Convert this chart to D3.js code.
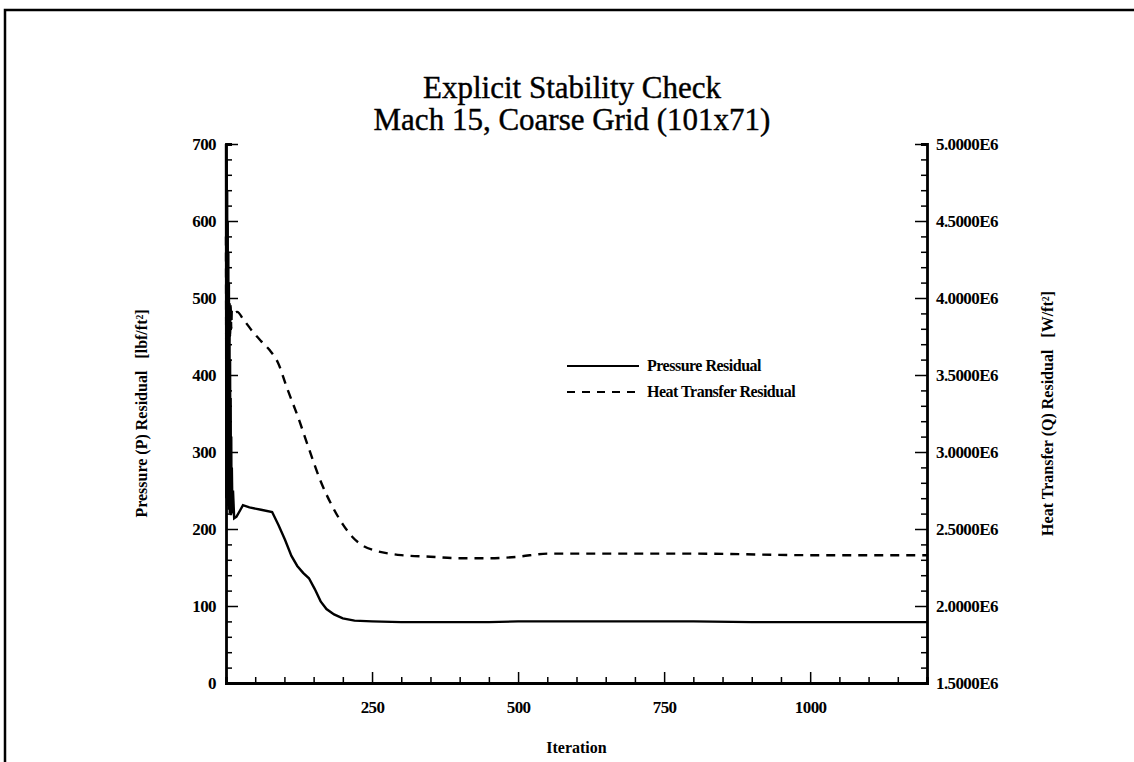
<!DOCTYPE html>
<html><head><meta charset="utf-8">
<script src="https://cdn.jsdelivr.net/npm/d3@7"></script>
<style>body{margin:0;background:#fff;} text{font-family:"Liberation Serif","Times New Roman",serif;fill:#000;}</style>
</head><body><svg id="c" width="1134" height="762"></svg>
<script>
const titleLines = ["Explicit Stability Check", "Mach 15, Coarse Grid (101x71)"];
const xLabel = "Iteration";
const yLeftLabel = "Pressure (P) Residual   [lbf/ft²]";
const yRightLabel = "Heat Transfer (Q) Residual   [W/ft²]";
const seriesNames = ["Pressure Residual", "Heat Transfer Residual"];
const xTicks = [250, 500, 750, 1000];
const yLeftTicks = [0, 100, 200, 300, 400, 500, 600, 700];
const yRightTicks = [1.5e6, 2.0e6, 2.5e6, 3.0e6, 3.5e6, 4.0e6, 4.5e6, 5.0e6];
const pressureIter = [0,0.5,1,1.5,2,2.5,3,3.5,4,4.5,5,5.5,6,6.5,7,7.5,8,8.5,9,9.5,10,11,12,14,18,24,29,40,60,79,90,101,112,122,132,142,152,162,172,185,200,220,250,300,400,450,500,550,650,800,900,1000,1100,1200];
const pressureVal = [700,240,680,260,640,230,600,250,560,225,520,240,470,220,420,230,370,218,320,220,280,225,250,214,216,224,231,228,225,222,205,186,165,152,143,136,122,106,96,89,84,81,80,79,79,79,80,80,80,80,79,79,79,79];
const heatIter = [0,0.5,1,1.5,2,2.5,3,3.5,4,5,6,7,8,9,10,12,19,30,46,60,75,89,104,123,143,161,183,200,216,235,255,280,300,350,400,450,500,550,600,700,800,1000,1200];
const heatVal = [4.4e6,3.6e6,4.3e6,3.65e6,4.2e6,3.6e6,4.1e6,3.7e6,4.05e6,3.7e6,3.98e6,3.75e6,3.95e6,3.8e6,3.92e6,3.9e6,3.91e6,3.86e6,3.78e6,3.72e6,3.66e6,3.58e6,3.42e6,3.23e6,3.01e6,2.82e6,2.64e6,2.53e6,2.45e6,2.39e6,2.36e6,2.34e6,2.33e6,2.32e6,2.31e6,2.31e6,2.32e6,2.34e6,2.34e6,2.34e6,2.34e6,2.33e6,2.33e6];

const svg = d3.select("#c");
const L = 226, R = 927, T = 144, B = 683;
const x = d3.scaleLinear().domain([0, 1200]).range([L, R]);
const yL = d3.scaleLinear().domain([0, 700]).range([B, T]);
const yR = d3.scaleLinear().domain([1.5e6, 5.0e6]).range([B, T]);

// page frame
svg.append("path").attr("d", "M5,770 L5,10 L1140,10").attr("fill","none").attr("stroke","#000").attr("stroke-width",2.5);

// titles
svg.selectAll("text.title").data(titleLines).enter().append("text")
  .attr("x", 572).attr("y", (d,i)=>98 + i*32).attr("text-anchor","middle")
  .attr("font-size", 31).attr("stroke","#000").attr("stroke-width",0.4).text(d=>d);

// axes
const sw = 2.8;
function fmtE(v){ return (v/1e6).toFixed(4) + "E6"; }
const lblStyle = g=>{g.select(".domain").remove(); g.selectAll("text").attr("font-size",17).attr("font-weight","bold").attr("font-family","Liberation Serif").attr("letter-spacing",-0.6);};
const gx = svg.append("g").attr("transform", `translate(0,${B})`);
gx.call(d3.axisTop(x).tickValues(d3.range(50, 1200, 50)).tickSize(6).tickFormat(""));
gx.call(g=>g.selectAll(".tick line").filter(d=>d%250===0).attr("y2",-11));
gx.selectAll(".tick line").attr("stroke-width",1.5);
gx.select(".domain").attr("stroke-width",sw);
svg.append("g").attr("transform", `translate(0,${B})`).call(d3.axisBottom(x).tickValues(xTicks).tickSize(0).tickPadding(18).tickFormat(d3.format("d")))
  .call(lblStyle);

const gl = svg.append("g").attr("transform", `translate(${L},0)`);
gl.call(d3.axisRight(yL).tickValues(d3.range(0, 701, 20)).tickSize(6).tickFormat(""));
gl.call(g=>g.selectAll(".tick line").filter(d=>d%100===0).attr("x2",12));
gl.selectAll(".tick line").attr("stroke-width",1.5);
gl.select(".domain").attr("stroke-width",sw);
svg.append("g").attr("transform", `translate(${L},0)`).call(d3.axisLeft(yL).tickValues(yLeftTicks).tickSize(0).tickPadding(10))
  .call(lblStyle);

const gr = svg.append("g").attr("transform", `translate(${R},0)`);
gr.call(d3.axisLeft(yR).tickValues(d3.range(15, 51, 1).map(v=>v*1e5)).tickSize(6).tickFormat(""));
gr.call(g=>g.selectAll(".tick line").filter((d,i)=>i%5===0).attr("x2",-12));
gr.selectAll(".tick line").attr("stroke-width",1.5);
gr.select(".domain").attr("stroke-width",sw);
svg.append("g").attr("transform", `translate(${R},0)`).call(d3.axisRight(yR).tickValues(yRightTicks).tickSize(0).tickPadding(9).tickFormat(fmtE))
  .call(lblStyle);

// axis titles
svg.append("text").attr("x", (L+R)/2).attr("y", 753).attr("text-anchor","middle").attr("font-size",16).attr("font-weight","bold").text(xLabel);
svg.append("text").attr("transform", `translate(147,${(T+B)/2}) rotate(-90)`).attr("text-anchor","middle").attr("font-size",16).attr("font-weight","bold").attr("xml:space","preserve").text(yLeftLabel);
svg.append("text").attr("transform", `translate(1053,${(T+B)/2}) rotate(-90)`).attr("text-anchor","middle").attr("font-size",16).attr("font-weight","bold").attr("xml:space","preserve").text(yRightLabel);

// lines
const pData = pressureIter.map((d,i)=>[d, pressureVal[i]]);
const hData = heatIter.map((d,i)=>[d, heatVal[i]]);
svg.append("path").datum(pData).attr("fill","none").attr("stroke","#000").attr("stroke-width",2.4)
  .attr("d", d3.line().x(d=>x(d[0])).y(d=>yL(d[1])).curve(d3.curveLinear));
svg.append("path").datum(hData).attr("fill","none").attr("stroke","#000").attr("stroke-width",2.4).attr("stroke-dasharray","9,7")
  .attr("d", d3.line().x(d=>x(d[0])).y(d=>yR(d[1])).curve(d3.curveMonotoneX));

// legend
const lg = svg.append("g").attr("transform","translate(567,366)");
seriesNames.forEach((n,i)=>{
  lg.append("line").attr("x1",0).attr("x2",72).attr("y1",i*26).attr("y2",i*26).attr("stroke","#000").attr("stroke-width",2)
    .attr("stroke-dasharray", i===1?"8,7":null);
  lg.append("text").attr("x",80).attr("y",i*26+5).attr("font-size",16).attr("font-weight","bold").attr("letter-spacing",-0.5).text(n);
});
</script></body></html>
